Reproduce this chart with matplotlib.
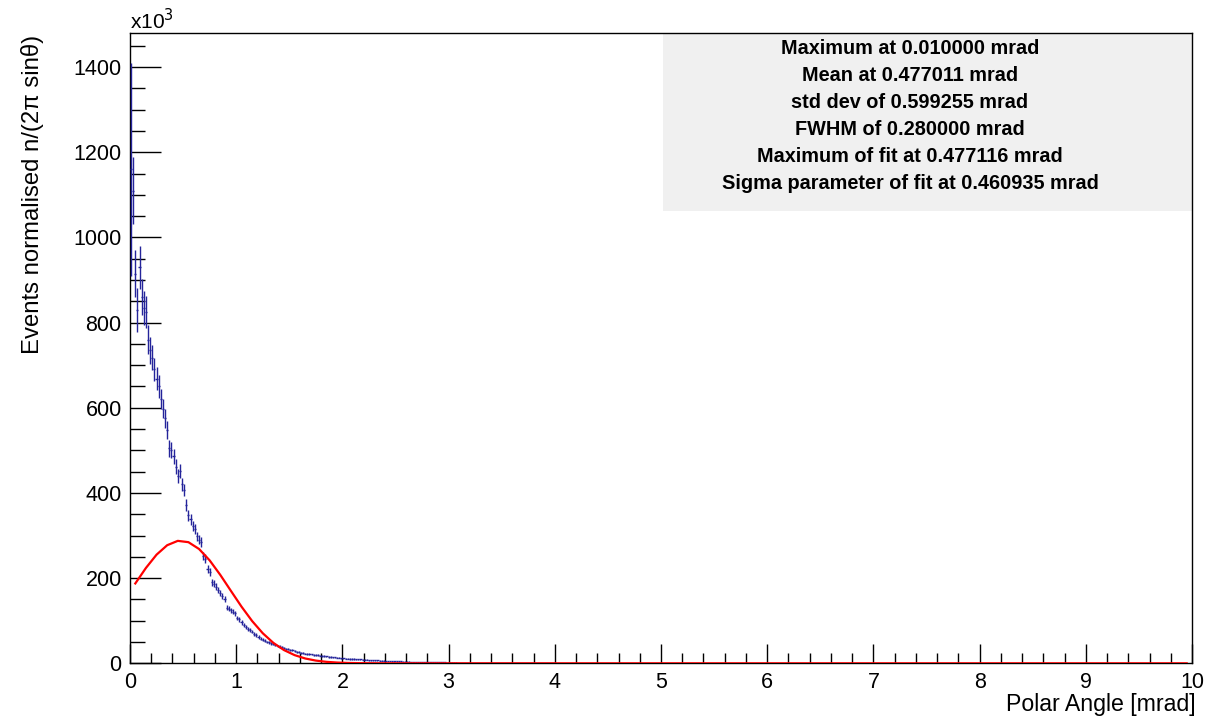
import numpy as np
import matplotlib
matplotlib.use("Agg")
import matplotlib.pyplot as plt
from matplotlib.patches import Rectangle
from matplotlib.ticker import MultipleLocator

plt.rcParams['font.family'] = ['Liberation Sans', 'DejaVu Sans']

# histogram: 0.02 mrad bins starting at 0, contents in units of 10^3
bin_width = 0.02
events_k = [
    1160, 1110, 915, 830, 930, 860, 835, 825, 760, 735,
    718, 690, 668, 650, 620, 598, 575, 548, 505, 500,
    486, 462, 440, 452, 420, 408, 372, 348, 338, 322,
    316, 298, 290, 285, 252, 246, 222, 214, 190, 187,
    180, 172, 164, 157, 150, 131, 128, 124, 121, 117,
    106, 103, 96, 90, 86, 81, 78, 74, 69, 66,
    62, 58, 55, 53, 50, 49, 47, 45, 43, 41,
    39, 38, 36, 34, 33, 32, 31, 29, 27, 26,
    25, 24, 23, 22, 22, 21, 20, 20, 19, 18,
    17, 17, 16, 15, 15, 14, 14, 13, 13, 12,
    12, 11, 11, 10, 10, 10, 9.5, 9, 9, 8.5,
    8.2, 8, 7.6, 7.4, 7, 6.8, 6.6, 6.3, 6, 5.8,
    5.6, 5.4, 5.2, 5, 4.8, 4.6, 4.4, 4.3, 4.1, 3.9,
    3.8, 3.6, 3.5, 3.4, 3.2, 3.1, 3.0, 2.9, 2.8, 2.7,
    2.6, 2.5, 2.4, 2.3, 2.2, 2.1, 2.0, 1.9, 1.9, 1.8,
    1.7, 1.6, 1.6, 1.5, 1.4, 1.4, 1.3, 1.3, 1.2, 1.2,
    1.1, 1.1, 1.0, 1.0, 0.9, 0.9, 0.9, 0.8, 0.8, 0.8,
    0.7, 0.7, 0.7, 0.6, 0.6, 0.6, 0.5, 0.5, 0.5, 0.5,
    0.4, 0.4, 0.4, 0.4, 0.3, 0.3, 0.3, 0.3, 0.3, 0.2,
    0.2, 0.2, 0.2, 0.2, 0.2, 0.1, 0.1, 0.1, 0.1, 0.1,
]
errors_k = [
    250, 78, 55, 52, 50, 42, 40, 38, 34, 32,
    30, 28, 27, 26, 24, 23, 22, 21, 20, 19,
    18, 17, 16, 16, 15, 14, 14, 13, 13, 12,
    12, 11, 11, 11, 10, 10, 9, 9, 8, 8,
    8, 7, 7, 7, 7, 6, 6, 6, 6, 6,
    5, 5, 5, 5, 5, 4, 4, 4, 4, 4,
    4, 4, 3.5, 3.5, 3.5, 3.5, 3, 3, 3, 3,
    3, 3, 3, 2.5, 2.5, 2.5, 2.5, 2.5, 2.5, 2,
    2, 2, 2, 2, 2, 2, 2, 2, 1.8, 1.8,
    1.8, 1.8, 1.6, 1.6, 1.6, 1.6, 1.5, 1.5, 1.5, 1.5,
    1.4, 1.4, 1.4, 1.3, 1.3, 1.3, 1.2, 1.2, 1.2, 1.2,
    1.1, 1.1, 1.1, 1.1, 1, 1, 1, 1, 1, 1,
    0.9, 0.9, 0.9, 0.9, 0.9, 0.8, 0.8, 0.8, 0.8, 0.8,
    0.8, 0.7, 0.7, 0.7, 0.7, 0.7, 0.7, 0.6, 0.6, 0.6,
    0.6, 0.6, 0.6, 0.6, 0.5, 0.5, 0.5, 0.5, 0.5, 0.5,
    0.5, 0.5, 0.5, 0.4, 0.4, 0.4, 0.4, 0.4, 0.4, 0.4,
    0.4, 0.4, 0.3, 0.3, 0.3, 0.3, 0.3, 0.3, 0.3, 0.3,
    0.3, 0.3, 0.3, 0.3, 0.2, 0.2, 0.2, 0.2, 0.2, 0.2,
    0.2, 0.2, 0.2, 0.2, 0.2, 0.2, 0.2, 0.1, 0.1, 0.1,
    0.1, 0.1, 0.1, 0.1, 0.1, 0.1, 0.1, 0.1, 0.1, 0.1,
]

# gaussian fit result
fit_mean = 0.477116
fit_sigma = 0.460935
fit_amp_k = 288
fit_xmin, fit_xmax = 0.05, 9.95

stats_lines = [
    "Maximum at 0.010000 mrad",
    "Mean at 0.477011 mrad",
    "std dev of 0.599255 mrad",
    "FWHM of 0.280000 mrad",
    "Maximum of fit at 0.477116 mrad",
    "Sigma parameter of fit at 0.460935 mrad",
]

centres = bin_width * (np.arange(len(events_k)) + 0.5)
fit_x = np.linspace(fit_xmin, fit_xmax, 100)
fit_y = fit_amp_k * np.exp(-0.5 * ((fit_x - fit_mean) / fit_sigma) ** 2)

fig = plt.figure(figsize=(12.29, 7.21), dpi=100)
ax = fig.add_axes([130 / 1229, 1 - 663.3 / 721, 1062 / 1229, 630.3 / 721])

ax.errorbar(centres, events_k, yerr=errors_k, xerr=bin_width / 2, fmt='none',
            ecolor='#24249a', elinewidth=1.0, capsize=0, zorder=3)
ax.plot(fit_x, fit_y, color='red', lw=1.6, zorder=4)

# stats box in the upper right corner
ax.add_patch(Rectangle((0.502, 0.7176), 0.498, 0.2824, transform=ax.transAxes,
                       facecolor='#f0f0f0', edgecolor='none', zorder=1))
for i, line in enumerate(stats_lines):
    y = 1 - (48 + i * 27 - 33) / 630.3
    ax.text(0.7345, y, line, transform=ax.transAxes, ha='center', va='center',
            fontsize=14.3, fontweight='bold', zorder=5)

ax.set_xlim(0, 10)
ax.set_ylim(0, 1480)
ax.xaxis.set_major_locator(MultipleLocator(1))
ax.xaxis.set_minor_locator(MultipleLocator(0.2))
ax.yaxis.set_major_locator(MultipleLocator(200))
ax.yaxis.set_minor_locator(MultipleLocator(50))
ax.tick_params(axis='x', which='major', direction='in', length=14, width=1, labelsize=15.5, pad=6)
ax.tick_params(axis='x', which='minor', direction='in', length=7, width=1)
ax.tick_params(axis='y', which='major', direction='in', length=22, width=1, labelsize=15.5, pad=6)
ax.tick_params(axis='y', which='minor', direction='in', length=11, width=1)
for sp in ax.spines.values():
    sp.set_linewidth(1.0)

fig.text(130 / 1229, 1 - 29 / 721, 'x10$^{3}$', ha='left', va='baseline', fontsize=15)
fig.text(33 / 1229, 1 - 35 / 721, 'Events normalised n/(2π sinθ)', rotation=90,
         ha='center', va='top', fontsize=17.2)
fig.text(1196 / 1229, 1 - 705 / 721, 'Polar Angle [mrad]', ha='right', va='center', fontsize=16.7)

fig.savefig('out.png', dpi=100)
